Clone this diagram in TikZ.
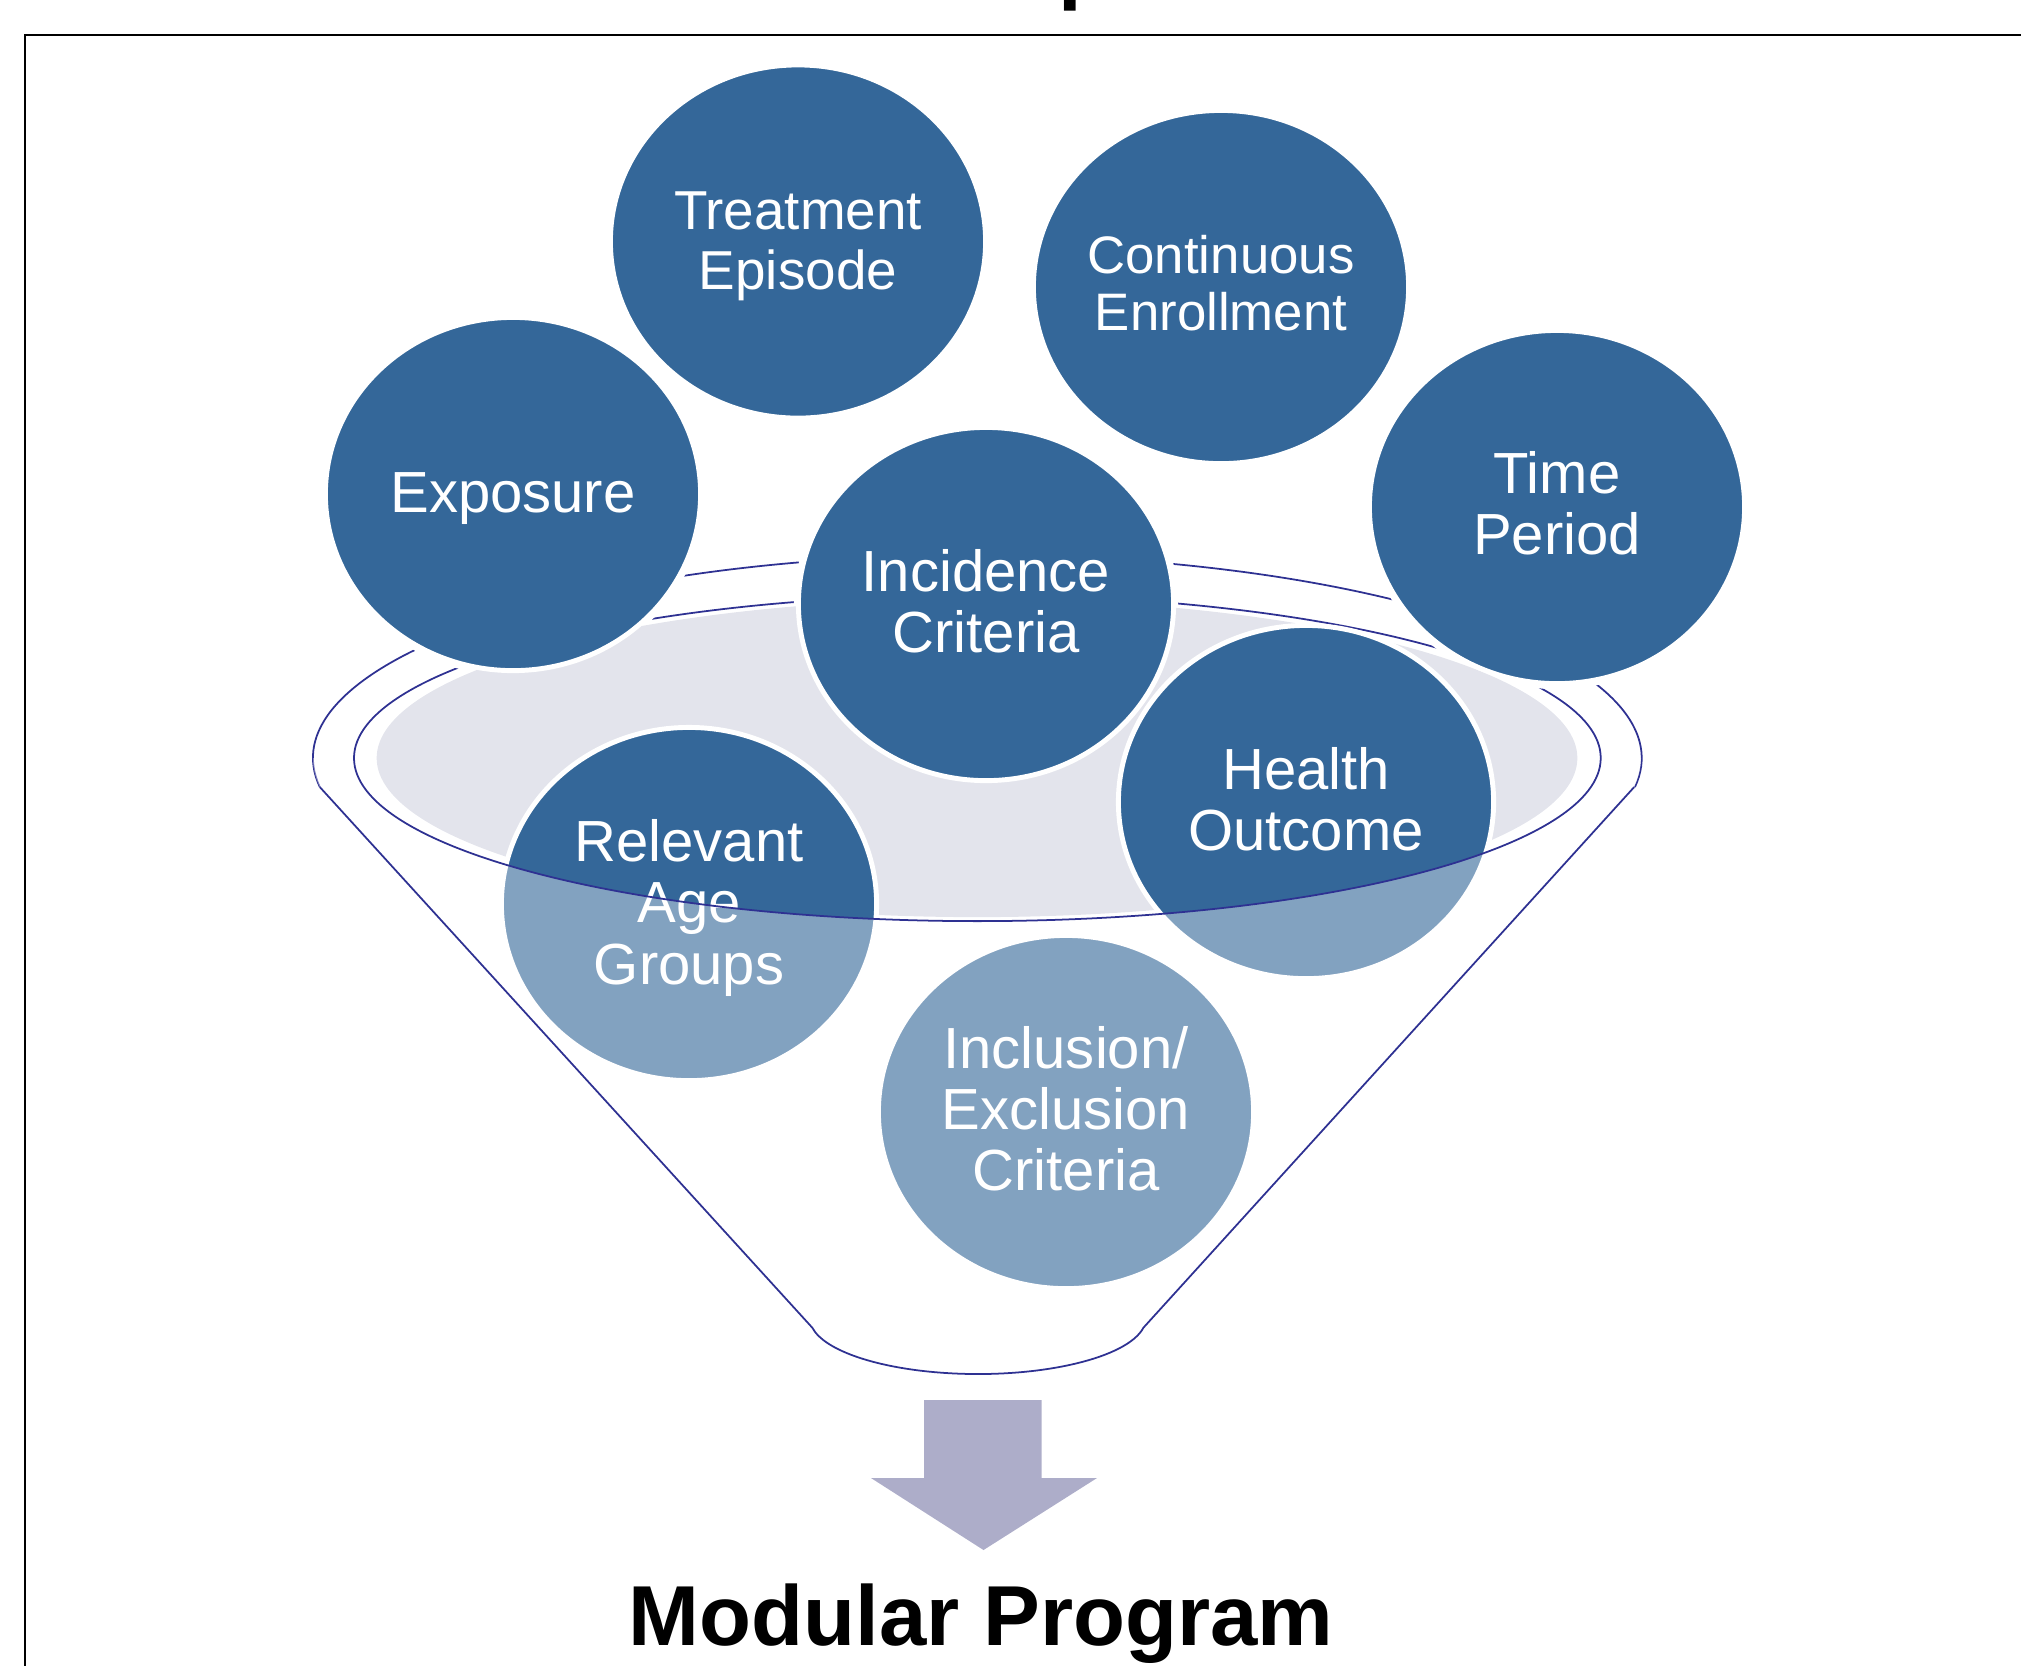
\documentclass[tikz,border=0pt]{standalone}
\usepackage{fontspec}
\setmainfont{Liberation Sans}
\usetikzlibrary{shapes.geometric}
\definecolor{bubblefill}{RGB}{52,103,153}
\definecolor{funnelstroke}{RGB}{46,49,146}
\definecolor{rimfill}{RGB}{227,228,236}
\definecolor{arrowfill}{RGB}{173,173,201}
\begin{document}
\begin{tikzpicture}[x=0.01cm,y=-0.01cm,
  bubble/.style={ellipse, fill=bubblefill, draw=white, line width=1.4pt,
    minimum width=3.75cm, minimum height=3.53cm, inner sep=0pt},
  bubblelabel/.style={inner sep=0pt, text=white, align=center,
    font=\fontsize{16.5}{17.4}\selectfont},
  funnelline/.style={draw=funnelstroke, line width=0.5pt},
  halo/.style={fill=white},
  outerrim/.style={x radius=6.64cm, y radius=2.03cm},
  innerrim/.style={x radius=6.23cm, y radius=1.63cm},
  spout/.style={x radius=1.68cm, y radius=0.56cm},
  bigbold/.style={inner sep=0pt, font=\fontsize{24.2}{29}\selectfont\bfseries},
]
\useasboundingbox (0,0) rectangle (2021,1665);

% frame and heading
\draw[black, line width=0.5pt] (25,35) rectangle (2200,1800);
\node[bigbold, anchor=base west] (heading) at (1058,-7) {p};

% key points of the funnel
\coordinate (rimL) at (319.8,787);
\coordinate (rimR) at (1634.2,787);
\coordinate (spoutL) at (812.6,1327.7);
\coordinate (spoutR) at (1143.4,1327.7);
\coordinate (lipL) at (354,758);
\coordinate (lipR) at (1600,758);
\coordinate (outL) at (313,758);
\coordinate (outR) at (1641,758);
\coordinate (rimC) at (977,758);

% bubble centres
\coordinate (cTE) at (798,241.5);
\coordinate (cCE) at (1221,287);
\coordinate (cEX) at (513,494);
\coordinate (cIC) at (986,604);
\coordinate (cTP) at (1557,507);
\coordinate (cHO) at (1306,802);
\coordinate (cRA) at (689,904);
\coordinate (cIE) at (1066,1112);

% back of the funnel
\draw[funnelline] (rimL) arc[start angle=188.2, end angle=-8.2, outerrim];
\draw[funnelline] (lipL) arc[start angle=180, end angle=0, innerrim];

% white halos where bubbles sit over the rim lines
\foreach \c in {cEX,cIC,cTP}
  \fill[halo] (\c) ellipse [x radius=1.92cm, y radius=1.82cm];

% inside of the funnel
\fill[rimfill] (rimC) ellipse [x radius=6.0cm, y radius=1.59cm];

% bubbles
\node[bubble] (exposure) at (cEX) {};
\node[bubble] (treatment) at (cTE) {};
\node[bubble] (enroll) at (cCE) {};
\node[bubble] (timeperiod) at (cTP) {};
\node[bubble] (incidence) at (cIC) {};
\node[bubble] (outcome) at (cHO) {};
\node[bubble] (agegroups) at (cRA) {};
\node[bubble] (inclusion) at (cIE) {};

% bubble labels
\node[bubblelabel, yshift=-1.3pt] (exposure-text) at (exposure.center) {Exposure};
\node[bubblelabel, yshift=-1.3pt, font=\fontsize{15.6}{17.2}\selectfont] (treatment-text) at (treatment.center) {Treatment\\Episode};
\node[bubblelabel, yshift=1.1pt, font=\fontsize{15}{16.1}\selectfont] (enroll-text) at (enroll.center) {Continuous\\Enrollment};
\node[bubblelabel, yshift=1.1pt] (timeperiod-text) at (timeperiod.center) {Time\\Period};
\node[bubblelabel, yshift=0.7pt] (incidence-text) at (incidence.center) {Incidence\\Criteria};
\node[bubblelabel, yshift=0.7pt] (outcome-text) at (outcome.center) {Health\\Outcome};
\node[bubblelabel, yshift=-1.1pt] (agegroups-text) at (agegroups.center) {Relevant\\Age\\Groups};
\node[bubblelabel, yshift=0.9pt] (inclusion-text) at (inclusion.center) {Inclusion/\\Exclusion\\Criteria};

% translucent front of the funnel
\fill[white, fill opacity=0.39] (lipL) arc[start angle=180, end angle=360, innerrim]
  -- (outR) arc[start angle=0, end angle=-8.2, outerrim]
  -- (spoutR) arc[start angle=-10, end angle=-170, spout]
  -- (rimL) arc[start angle=188.2, end angle=180, outerrim] -- cycle;

% front edges of the funnel
\draw[funnelline] (lipL) arc[start angle=180, end angle=360, innerrim];
\draw[funnelline, line join=round] (rimR) -- (spoutR) arc[start angle=-10, end angle=-170, spout] -- (rimL);

% output arrow
\fill[arrowfill] (924,1400) -- (1041.5,1400) -- (1041.5,1478) -- (1097,1478)
  -- (983.5,1550) -- (871,1478) -- (924,1478) -- cycle;

\node[bigbold, anchor=base] (program) at (981,1645) {Modular Program};
\end{tikzpicture}
\end{document}
